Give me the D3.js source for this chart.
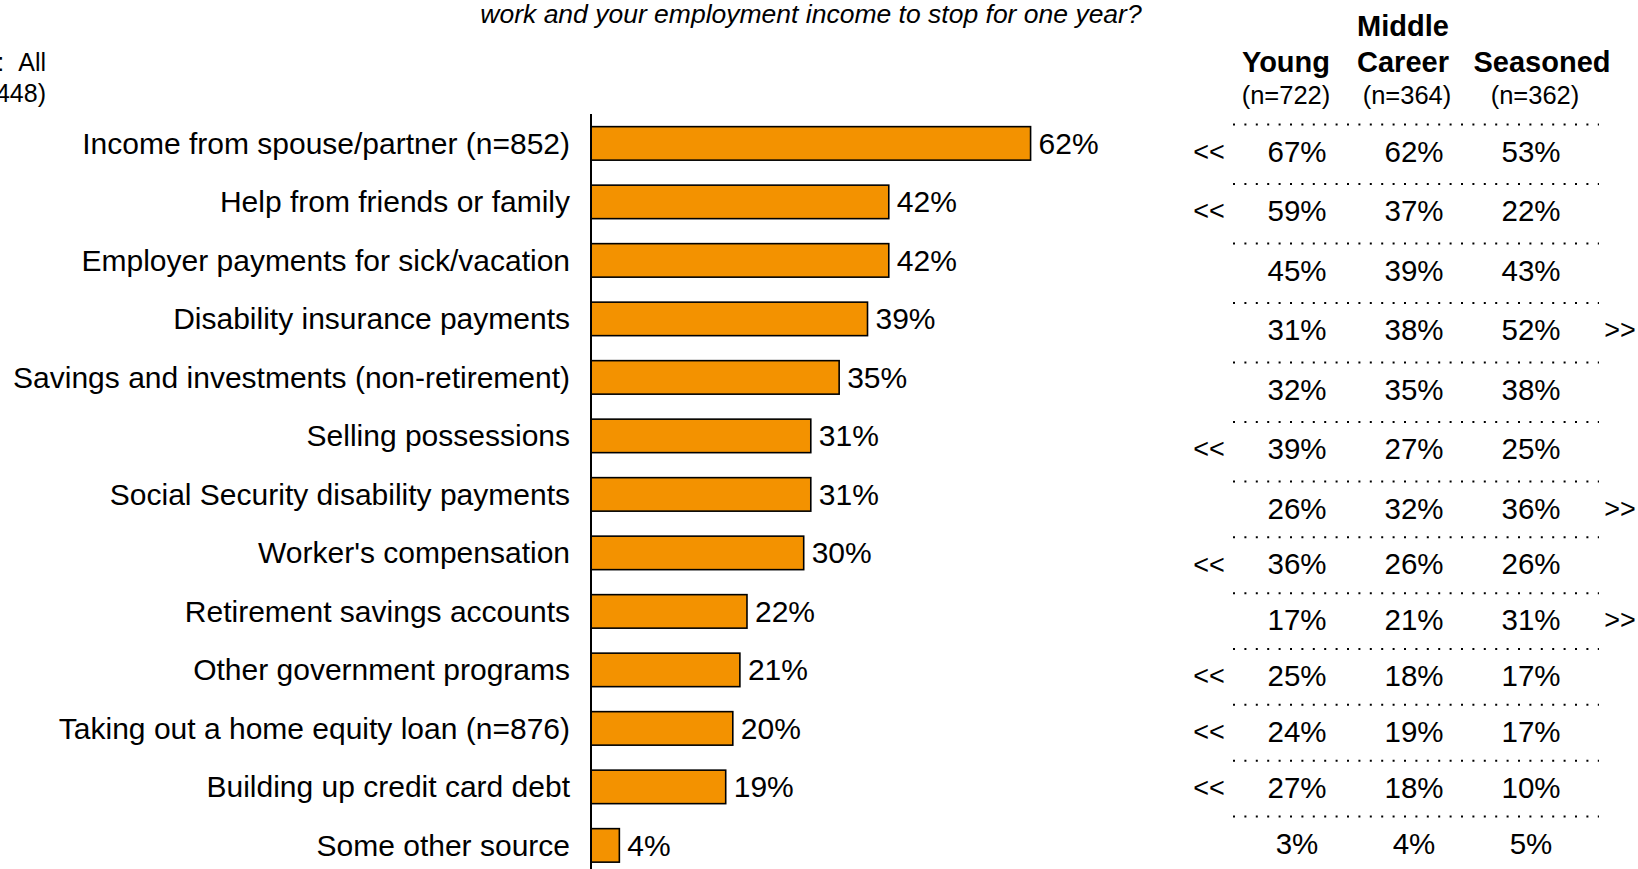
<!DOCTYPE html>
<html>
<head>
<meta charset="utf-8">
<script src="https://cdn.jsdelivr.net/npm/d3@7"></script>
<style>
  html, body { margin: 0; padding: 0; background: #fff; }
  svg { display: block; font-family: "Liberation Sans", Arial, Helvetica, sans-serif; }
</style>
</head>
<body>
<svg id="chart" width="1638" height="869"></svg>
<script>
// Sources of income if work stopped for one year — all respondents and by career stage
const categories = [
  "Income from spouse/partner (n=852)",
  "Help from friends or family",
  "Employer payments for sick/vacation",
  "Disability insurance payments",
  "Savings and investments (non-retirement)",
  "Selling possessions",
  "Social Security disability payments",
  "Worker's compensation",
  "Retirement savings accounts",
  "Other government programs",
  "Taking out a home equity loan (n=876)",
  "Building up credit card debt",
  "Some other source"
];
const allValues      = [62, 42, 42, 39, 35, 31, 31, 30, 22, 21, 20, 19, 4];
const youngValues    = [67, 59, 45, 31, 32, 39, 26, 36, 17, 25, 24, 27, 3];
const middleValues   = [62, 37, 39, 38, 35, 27, 32, 26, 21, 18, 19, 18, 4];
const seasonedValues = [53, 22, 43, 52, 38, 25, 36, 26, 31, 17, 17, 10, 5];
// significance markers: "<<" Young higher, ">>" Seasoned higher
const sigFlags = ["<<", "<<", "", ">>", "", "<<", ">>", "<<", ">>", "<<", "<<", "<<", ""];

const groupNames = ["Young", "Middle Career", "Seasoned"];
const groupSizes = ["(n=722)", "(n=364)", "(n=362)"];

const titleText = "work and your employment income to stop for one year?";
const baseLines = ["Segment:\u00a0\u00a0All", "(n=1,448)"];

const svg = d3.select("#chart");
const labelSize = 30;
const cellSize = 29.5;

// --- scales ---
const x = d3.scaleLinear().domain([0, 100]).range([591, 1300]);
const y = d3.scalePoint().domain(categories).range([143.4, 845.4]);
const barH = 33.5;

// table rows (upper block slightly looser than lower block)
const rowY = d3.scaleLinear().domain([0, 6, 12]).range([151, 508, 843]);
const colX = d3.scalePoint().domain(groupNames).range([1297, 1531]);

// --- title (continuation line) ---
svg.append("text")
  .attr("x", 811).attr("y", 23)
  .attr("text-anchor", "middle")
  .attr("font-style", "italic")
  .attr("font-size", 26.5)
  .text(titleText);

// base description at top-left
svg.selectAll("text.base").data(baseLines).join("text")
  .attr("class", "base")
  .attr("x", 46)
  .attr("y", (d, i) => 71 + i * 31)
  .attr("text-anchor", "end")
  .attr("font-size", 25)
  .text(d => d);

// --- bars ---
const g = svg.append("g");

g.selectAll("rect.bar").data(categories).join("rect")
  .attr("class", "bar")
  .attr("x", x(0))
  .attr("y", d => y(d) - barH / 2)
  .attr("width", (d, i) => x(allValues[i]) - x(0))
  .attr("height", barH)
  .attr("fill", "#F39200")
  .attr("stroke", "#000")
  .attr("stroke-width", 1.6);

// vertical axis line
g.append("line")
  .attr("x1", x(0)).attr("x2", x(0))
  .attr("y1", 114).attr("y2", 869)
  .attr("stroke", "#000").attr("stroke-width", 2);

// category labels
g.selectAll("text.cat").data(categories).join("text")
  .attr("class", "cat")
  .attr("x", 570)
  .attr("y", d => y(d))
  .attr("dy", "0.35em")
  .attr("text-anchor", "end")
  .attr("font-size", labelSize)
  .text(d => d);

// value labels
g.selectAll("text.val").data(categories).join("text")
  .attr("class", "val")
  .attr("x", (d, i) => x(allValues[i]) + 8)
  .attr("y", d => y(d))
  .attr("dy", "0.35em")
  .attr("font-size", labelSize)
  .text((d, i) => allValues[i] + "%");

// --- comparison table ---
const t = svg.append("g");

t.append("text")
  .attr("x", 1403).attr("y", 36)
  .attr("text-anchor", "middle")
  .attr("font-weight", "bold")
  .attr("font-size", 29)
  .text("Middle");

const headCenters = [1286, 1403, 1542];
const headWords = ["Young", "Career", "Seasoned"];
t.selectAll("text.head").data(headWords).join("text")
  .attr("class", "head")
  .attr("x", (d, i) => headCenters[i])
  .attr("y", 72)
  .attr("text-anchor", "middle")
  .attr("font-weight", "bold")
  .attr("font-size", 29)
  .text(d => d);

const sizeCenters = [1286, 1407, 1535];
t.selectAll("text.size").data(groupSizes).join("text")
  .attr("class", "size")
  .attr("x", (d, i) => sizeCenters[i])
  .attr("y", 104)
  .attr("text-anchor", "middle")
  .attr("font-size", 25.5)
  .text(d => d);

// dotted separators above each row
t.selectAll("line.sep").data(categories).join("line")
  .attr("class", "sep")
  .attr("x1", 1233).attr("x2", 1599)
  .attr("y1", (d, i) => rowY(i) - 26.5)
  .attr("y2", (d, i) => rowY(i) - 26.5)
  .attr("stroke", "#000")
  .attr("stroke-width", 2)
  .attr("stroke-dasharray", "2 9.4");

const series = [youngValues, middleValues, seasonedValues];
groupNames.forEach((name, s) => {
  t.selectAll("text.c" + s).data(series[s]).join("text")
    .attr("class", "c" + s)
    .attr("x", colX(name))
    .attr("y", (d, i) => rowY(i))
    .attr("dy", "0.36em")
    .attr("text-anchor", "middle")
    .attr("font-size", cellSize)
    .text(d => d + "%");
});

t.selectAll("text.sig").data(sigFlags).join("text")
  .attr("class", "sig")
  .attr("x", d => d === "<<" ? 1209 : 1620)
  .attr("y", (d, i) => rowY(i))
  .attr("dy", "0.36em")
  .attr("text-anchor", "middle")
  .attr("font-size", 27)
  .text(d => d);
</script>
</body>
</html>
